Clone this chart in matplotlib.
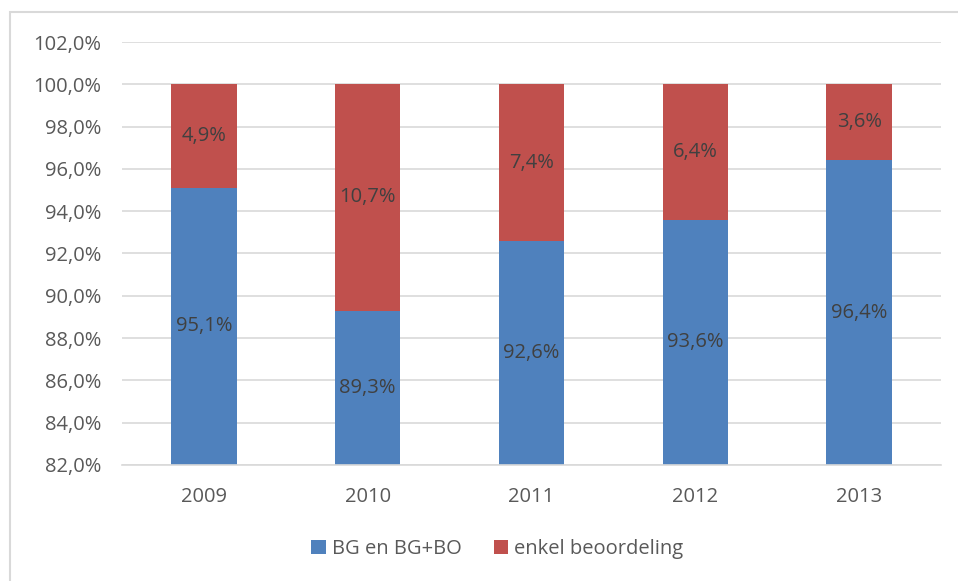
import matplotlib
matplotlib.use("Agg")
import matplotlib.pyplot as plt
from matplotlib.patches import Rectangle
from matplotlib.ticker import FuncFormatter

years = ["2009", "2010", "2011", "2012", "2013"]
bg_bo = [95.1, 89.3, 92.6, 93.6, 96.4]
enkel = [4.9, 10.7, 7.4, 6.4, 3.6]
series_names = ["BG en BG+BO", "enkel beoordeling"]

blue = "#4F81BD"
red = "#C0504D"
text_col = "#595959"
label_col = "#404040"
fs = 14.5

plt.rcParams['font.family'] = ['Open Sans', 'DejaVu Sans']

fig = plt.figure(figsize=(9.58, 5.81), dpi=100)
ax = fig.add_axes([0.1273, 0.1997, 0.855, 0.7280])

ymin, ymax = 82, 102
x = range(len(years))
ax.bar(x, bg_bo, width=0.4, color=blue, label=series_names[0], zorder=2)
ax.bar(x, enkel, width=0.4, bottom=bg_bo, color=red, label=series_names[1], zorder=2)

fmt = lambda v: ("%.1f%%" % v).replace(".", ",")
for i in x:
    ax.text(i, (ymin + bg_bo[i]) / 2, fmt(bg_bo[i]), ha="center", va="center",
            fontsize=fs, color=label_col, zorder=3)
    ax.text(i, bg_bo[i] + enkel[i] / 2, fmt(enkel[i]), ha="center", va="center",
            fontsize=fs, color=label_col, zorder=3)

ax.set_ylim(ymin, ymax)
ax.set_xlim(-0.5, len(years) - 0.5)
ax.set_yticks(range(ymin, ymax + 1, 2))
ax.yaxis.set_major_formatter(FuncFormatter(lambda v, p: fmt(v)))
ax.set_xticks(list(x))
ax.set_xticklabels(years)
ax.tick_params(axis="both", length=0, labelsize=fs, labelcolor=text_col)
ax.tick_params(axis="y", pad=15)
ax.tick_params(axis="x", pad=16)
ax.grid(axis="y", color="#D9D9D9", linewidth=1.2, zorder=0)
for s in ["top", "right", "left"]:
    ax.spines[s].set_visible(False)
ax.spines["bottom"].set_color("#D9D9D9")
ax.spines["bottom"].set_linewidth(1.2)

ax.legend(loc="center", bbox_to_anchor=(0.5 - 0.042, -0.199), ncol=2, frameon=False,
          fontsize=fs, labelcolor=text_col, handlelength=0.7, handleheight=0.7,
          handletextpad=0.3, columnspacing=1.6)

# chart border (only top and left visible in the crop)
fig.patches.append(Rectangle((10 / 958, -0.05), 1.0, 1 - 12 / 581 + 0.05,
                             transform=fig.transFigure, fill=False,
                             edgecolor="#D9D9D9", linewidth=1.5))

fig.savefig("out.png", dpi=100)
